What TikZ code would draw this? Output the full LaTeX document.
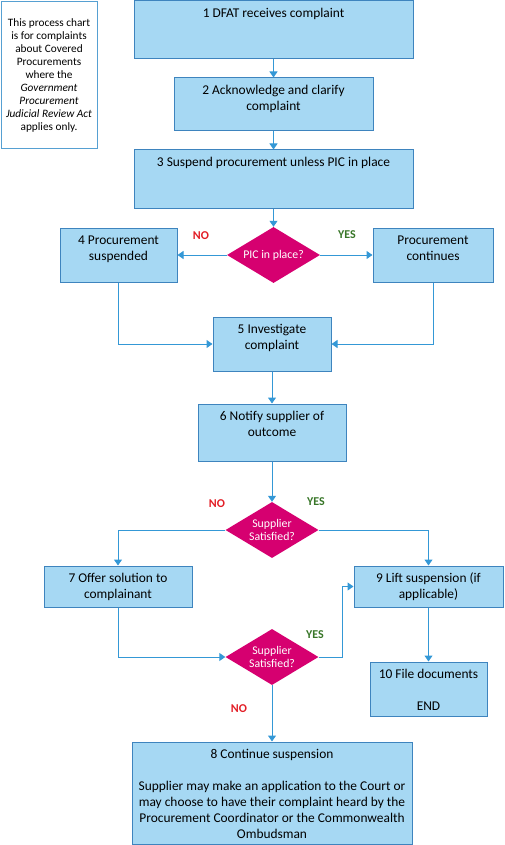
\documentclass[tikz,border=0pt]{standalone}
\usepackage{fontspec}
\setmainfont{Carlito}
\usetikzlibrary{shapes.geometric,arrows.meta}
\definecolor{boxfill}{RGB}{166,216,243}
\definecolor{boxline}{RGB}{62,132,190}
\definecolor{flowline}{RGB}{52,152,214}
\definecolor{noteline}{RGB}{86,160,210}
\definecolor{decfill}{RGB}{214,0,112}
\definecolor{nored}{RGB}{226,30,38}
\definecolor{yesgreen}{RGB}{56,118,40}
\newcommand{\toptext}[3]{\parbox[t][#1][t]{#2}{\centering\rule{0pt}{12.6pt}#3}}

\begin{document}
\begin{tikzpicture}[x=1pt, y=-1pt,
    stepbox/.style={draw=boxline, line width=1pt, fill=boxfill, inner sep=4pt,
        font=\fontsize{13.4}{16}\selectfont},
    notebox/.style={draw=noteline, line width=1pt, fill=white, align=center,
        minimum width=96pt, minimum height=147pt, font=\fontsize{11.3}{13}\selectfont},
    decision/.style={diamond, fill=decfill, text=white, inner sep=0pt, aspect=1.65,
        minimum width=93pt, minimum height=56pt, align=center,
        font=\fontsize{11.8}{13}\selectfont},
    flow/.style={draw=flowline, line width=1pt, -{Triangle[width=8pt,length=6pt]}},
    nolabel/.style={text=nored, font=\bfseries\fontsize{12}{14}\selectfont},
    yeslabel/.style={text=yesgreen, font=\bfseries\fontsize{12}{14}\selectfont}]

    \useasboundingbox (0,0) rectangle (504,845);

    \node[notebox] (note) at (49,75.5) {This process chart\\is for complaints\\about Covered\\Procurements\\where the\\\textit{Government}\\\textit{Procurement}\\\textit{Judicial Review Act}\\applies only.};

    \node[stepbox] (s1) at (273.5,30) {\toptext{50pt}{271pt}{1 DFAT receives complaint}};
    \node[stepbox] (s2) at (273.5,104.5) {\toptext{45pt}{191pt}{2 Acknowledge and clarify\\complaint}};
    \node[stepbox] (s3) at (273.5,179) {\toptext{50pt}{271pt}{3 Suspend procurement unless PIC in place}};

    \node[decision] (pic) at (273.5,255) {PIC in place?};
    \node[stepbox] (s4) at (118.5,255) {\toptext{46pt}{109pt}{4 Procurement\\suspended}};
    \node[stepbox] (cont) at (433,255) {\toptext{46pt}{112pt}{Procurement\\continues}};

    \node[stepbox] (s5) at (272,344) {\toptext{46pt}{110pt}{5 Investigate\\complaint}};
    \node[stepbox] (s6) at (272,432.5) {\toptext{49pt}{140pt}{6 Notify supplier of\\outcome}};

    \node[decision] (sat1) at (272,530) {Supplier\\Satisfied?};
    \node[stepbox] (s7) at (118,586.5) {\toptext{33pt}{140pt}{7 Offer solution to\\complainant}};
    \node[stepbox] (s9) at (428.5,586.5) {\toptext{33pt}{141pt}{9 Lift suspension (if\\applicable)}};

    \node[decision] (sat2) at (272,657) {Supplier\\Satisfied?};
    \node[stepbox] (s10) at (428.5,689) {\toptext{46pt}{109pt}{10 File documents\\[16pt]END}};

    \node[stepbox] (s8) at (272,793) {\toptext{94pt}{272pt}{8 Continue suspension\\[16pt]Supplier may make an application to the Court or\\may choose to have their complaint heard by the\\Procurement Coordinator or the Commonwealth\\Ombudsman}};

    \node[nolabel] (no1) at (201,236) {NO};
    \node[yeslabel] (yes1) at (347,235) {YES};
    \node[nolabel] (no2) at (217,504) {NO};
    \node[yeslabel] (yes2) at (316,502) {YES};
    \node[yeslabel] (yes3) at (315,635) {YES};
    \node[nolabel] (no3) at (239,709) {NO};

    \draw[flow] (s1) -- (s2);
    \draw[flow] (s2) -- (s3);
    \draw[flow] (s3) -- (pic);
    \draw[flow] (pic.west) -- (s4.east);
    \draw[flow] (pic.east) -- (cont.west);
    \draw[flow] (s4.south) |- (s5.west);
    \draw[flow] (cont.south) |- (s5.east);
    \draw[flow] (s5) -- (s6);
    \draw[flow] (s6) -- (sat1);
    \draw[flow] (sat1.west) -| (s7.north);
    \draw[flow] (sat1.east) -| (s9.north);
    \draw[flow] (s7.south) |- (sat2.west);
    \draw[flow] (sat2.east) -- ++(24,0) |- (s9.west);
    \draw[flow] (s9) -- (s10);
    \draw[flow] (sat2) -- (s8);

\end{tikzpicture}
\end{document}
